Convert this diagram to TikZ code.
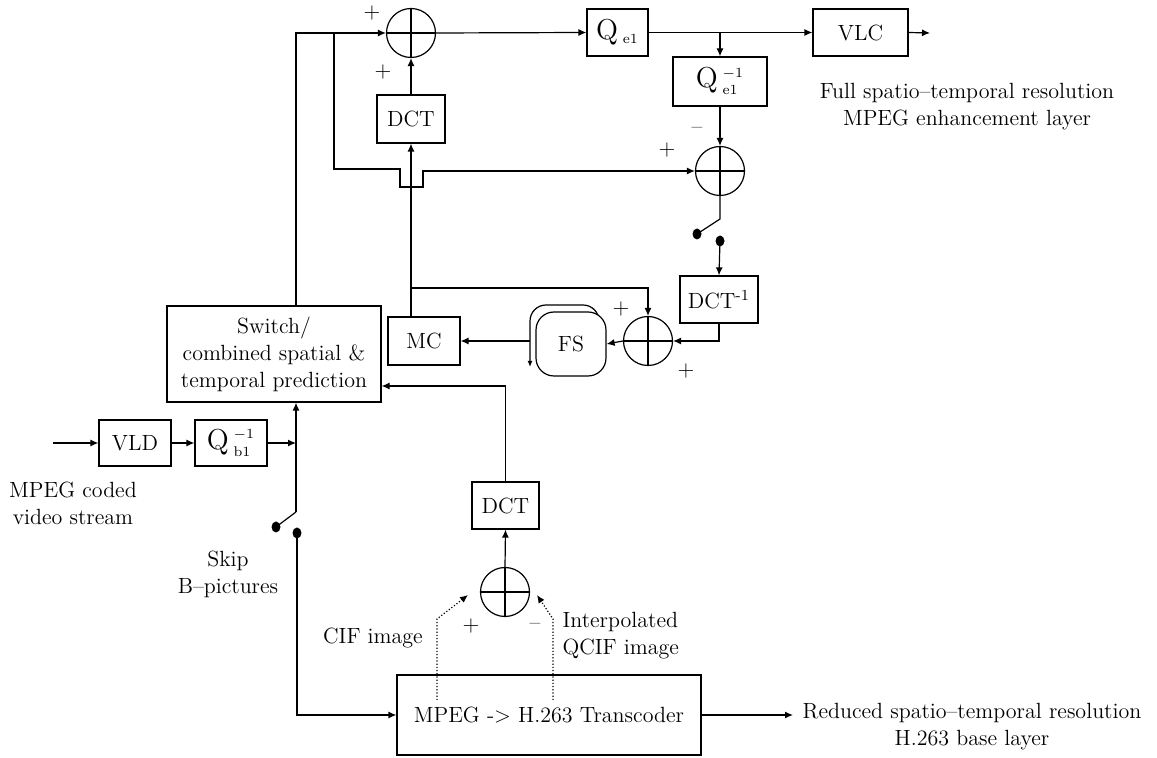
\documentclass[tikz,border=0pt]{standalone}
\usetikzlibrary{arrows.meta,shapes.geometric}
\begin{document}
\begin{tikzpicture}[x=0.5pt,y=-0.5pt, line width=0.6pt,
  font=\fontsize{11}{13.5}\selectfont,
  box/.style={draw, inner sep=0pt, align=center},
  qbox/.style={box, font=\fontsize{14}{15}\selectfont},
  sumc/.style={draw, circle, minimum size=24.5pt, inner sep=0pt},
  arr/.style={-{Latex[length=4pt,width=3.5pt]}},
  dotn/.style={ellipse, fill=black, minimum width=4.5pt, minimum height=5.5pt, inner sep=0pt},
  lbl/.style={inner sep=0pt, align=center},
  sgn/.style={inner sep=0pt}]
\useasboundingbox (0,0) rectangle (1157,758);

% ---- nodes
\node[sumc] (S1) at (411,33) {};
\node[qbox, minimum width=30.5pt, minimum height=23.5pt] (Qe1) at (617.5,32.5) {$\mathrm{Q}\,{}_{\scriptscriptstyle\mathrm{e1}}$};
\node[box, minimum width=47.5pt, minimum height=23.5pt] (VLC) at (860.5,32.5) {VLC};
\coordinate (out1) at (930,33);
\node[qbox, minimum width=47pt, minimum height=24.5pt] (Qe1i) at (720,81.5) {$\mathrm{Q}\,{}^{\scriptscriptstyle -1}_{\scriptscriptstyle\mathrm{e1}}$};
\node[sumc] (S2) at (720,171) {};
\node[box, minimum width=34pt, minimum height=24pt] (DCT1) at (411,119) {DCT};
\node[dotn] (d1) at (697,234) {};
\node[dotn] (d2) at (720,241) {};
\node[box, minimum width=39pt, minimum height=23.5pt] (DCTi) at (719,299.5) {DCT\textsuperscript{-1}};
\node[sumc] (S3) at (648,341) {};
\draw[-{Latex[length=3pt,width=2.5pt]}, rounded corners=8pt] (599,320) -- (599,305) -- (530,305) -- (530,367);
\coordinate (fsl) at (530,341);
\node[box, rounded corners=9pt, fill=white, minimum width=35pt, minimum height=32pt] (FS) at (571,344) {FS};
\node[box, minimum width=36pt, minimum height=24pt] (MC) at (424,341) {MC};
\node[box, minimum width=107pt, minimum height=48pt] (SW) at (274,354) {Switch/\\combined spatial \&\\temporal prediction};
\node[box, minimum width=36pt, minimum height=23pt] (VLD) at (135,443) {VLD};
\node[qbox, minimum width=36pt, minimum height=23pt] (Qb1) at (231,443) {$\mathrm{Q}\,{}^{\scriptscriptstyle -1}_{\scriptscriptstyle\mathrm{b1}}$};
\node[box, minimum width=33.5pt, minimum height=23.5pt] (DCT2) at (505.5,505.5) {DCT};
\node[sumc] (S4) at (505,592) {};
\node[box, minimum width=152pt, minimum height=40pt] (TC) at (549,715) {MPEG -{}> H.263 Transcoder};
\node[dotn] (d3) at (276,527) {};
\node[dotn] (d4) at (297,533) {};

% crosses in summing circles
\foreach \s in {S1,S2,S3,S4}{
  \draw (\s.north) -- (\s.south) (\s.west) -- (\s.east);
}

% ---- connectors
\draw[arr] (S1.east) -- (Qe1.west);
\draw[arr] (Qe1.east) -- (VLC.west);
\draw[arr] (VLC.east) -- (out1);
\coordinate (j0) at (720,33);
\draw[arr] (j0) -- (Qe1i.north);
\draw[arr] (Qe1i.south) -- (S2.north);
\coordinate (sw1) at (720,219);
\draw (S2.south) -- (sw1) -- (d1.center);
\draw[arr] (d2.center) -- (DCTi.north);
\draw[arr] (DCTi.south) |- (S3.east);
\draw[arr] (S3.west) -- (FS.east);
\draw[arr] (fsl) -- (MC.east);
\draw[arr] (DCT1.south |- MC.north) -- (DCT1.south);
\draw[arr] (DCT1.north) -- (S1.south);
\coordinate (j1) at (411,288);
\draw[arr] (j1) -| (S3.north);
\coordinate (j2) at (296,33);
\draw[arr] (j2 |- SW.north) -- (j2) -- (S1.west);
\coordinate (b1) at (334,33);
\draw[arr] (b1) -- (334,169) -- (400,169) -- (400,187) -- (423,187) -- (423,171) -- (S2.west);

\coordinate (in1) at (53,443);
\draw[arr] (in1) -- (VLD.west);
\draw[arr] (VLD.east) -- (Qb1.west);
\coordinate (j3) at (296,443);
\draw[arr] (Qb1.east) -- (j3);
\coordinate (sw2) at (296,512);
\draw[arr] (sw2) -- (sw2 |- SW.south);
\draw (sw2) -- (d3.center);
\draw[arr] (d4.center) |- (TC.west);

\draw[arr] (S4.north) -- (DCT2.south);
\coordinate (y386) at (0,386);
\draw[arr] (DCT2.north) -- (DCT2.north |- y386) -- (SW.east |- y386);

\coordinate (p1) at (437,700);
\coordinate (t1) at (468,595);
\draw[arr, densely dotted] (p1) -- (437,619) -- (t1);
\coordinate (p2) at (553,700);
\coordinate (t2) at (537,595);
\draw[arr, densely dotted] (p2) -- (553,619) -- (t2);

\coordinate (out2) at (793,715);
\draw[arr] (TC.east) -- (out2);

% ---- signs
\node[sgn] (pa) at (372,13) {+};
\node[sgn] (pb) at (383,72) {+};
\node[sgn] (mc) at (697,130) {--};
\node[sgn] (pc) at (667,150) {+};
\node[sgn] (pd) at (621,309) {+};
\node[sgn] (pe) at (686,371) {+};
\node[sgn] (pf) at (471,626) {+};
\node[sgn] (mf) at (535,626) {--};

% ---- text labels
\node[lbl] (t_full) at (967,107) {Full spatio--temporal resolution\\MPEG enhancement layer};
\node[lbl] (t_mpeg) at (73,503) {MPEG coded\\video stream};
\node[lbl] (t_skip) at (228,574) {Skip\\B--pictures};
\node[lbl] (t_cif) at (373,638) {CIF image};
\node[lbl, anchor=west, align=left] (t_qcif) at (562,636) {Interpolated\\QCIF image};
\node[lbl] (t_red) at (972,727) {Reduced spatio--temporal resolution\\H.263 base layer};
\end{tikzpicture}
\end{document}
